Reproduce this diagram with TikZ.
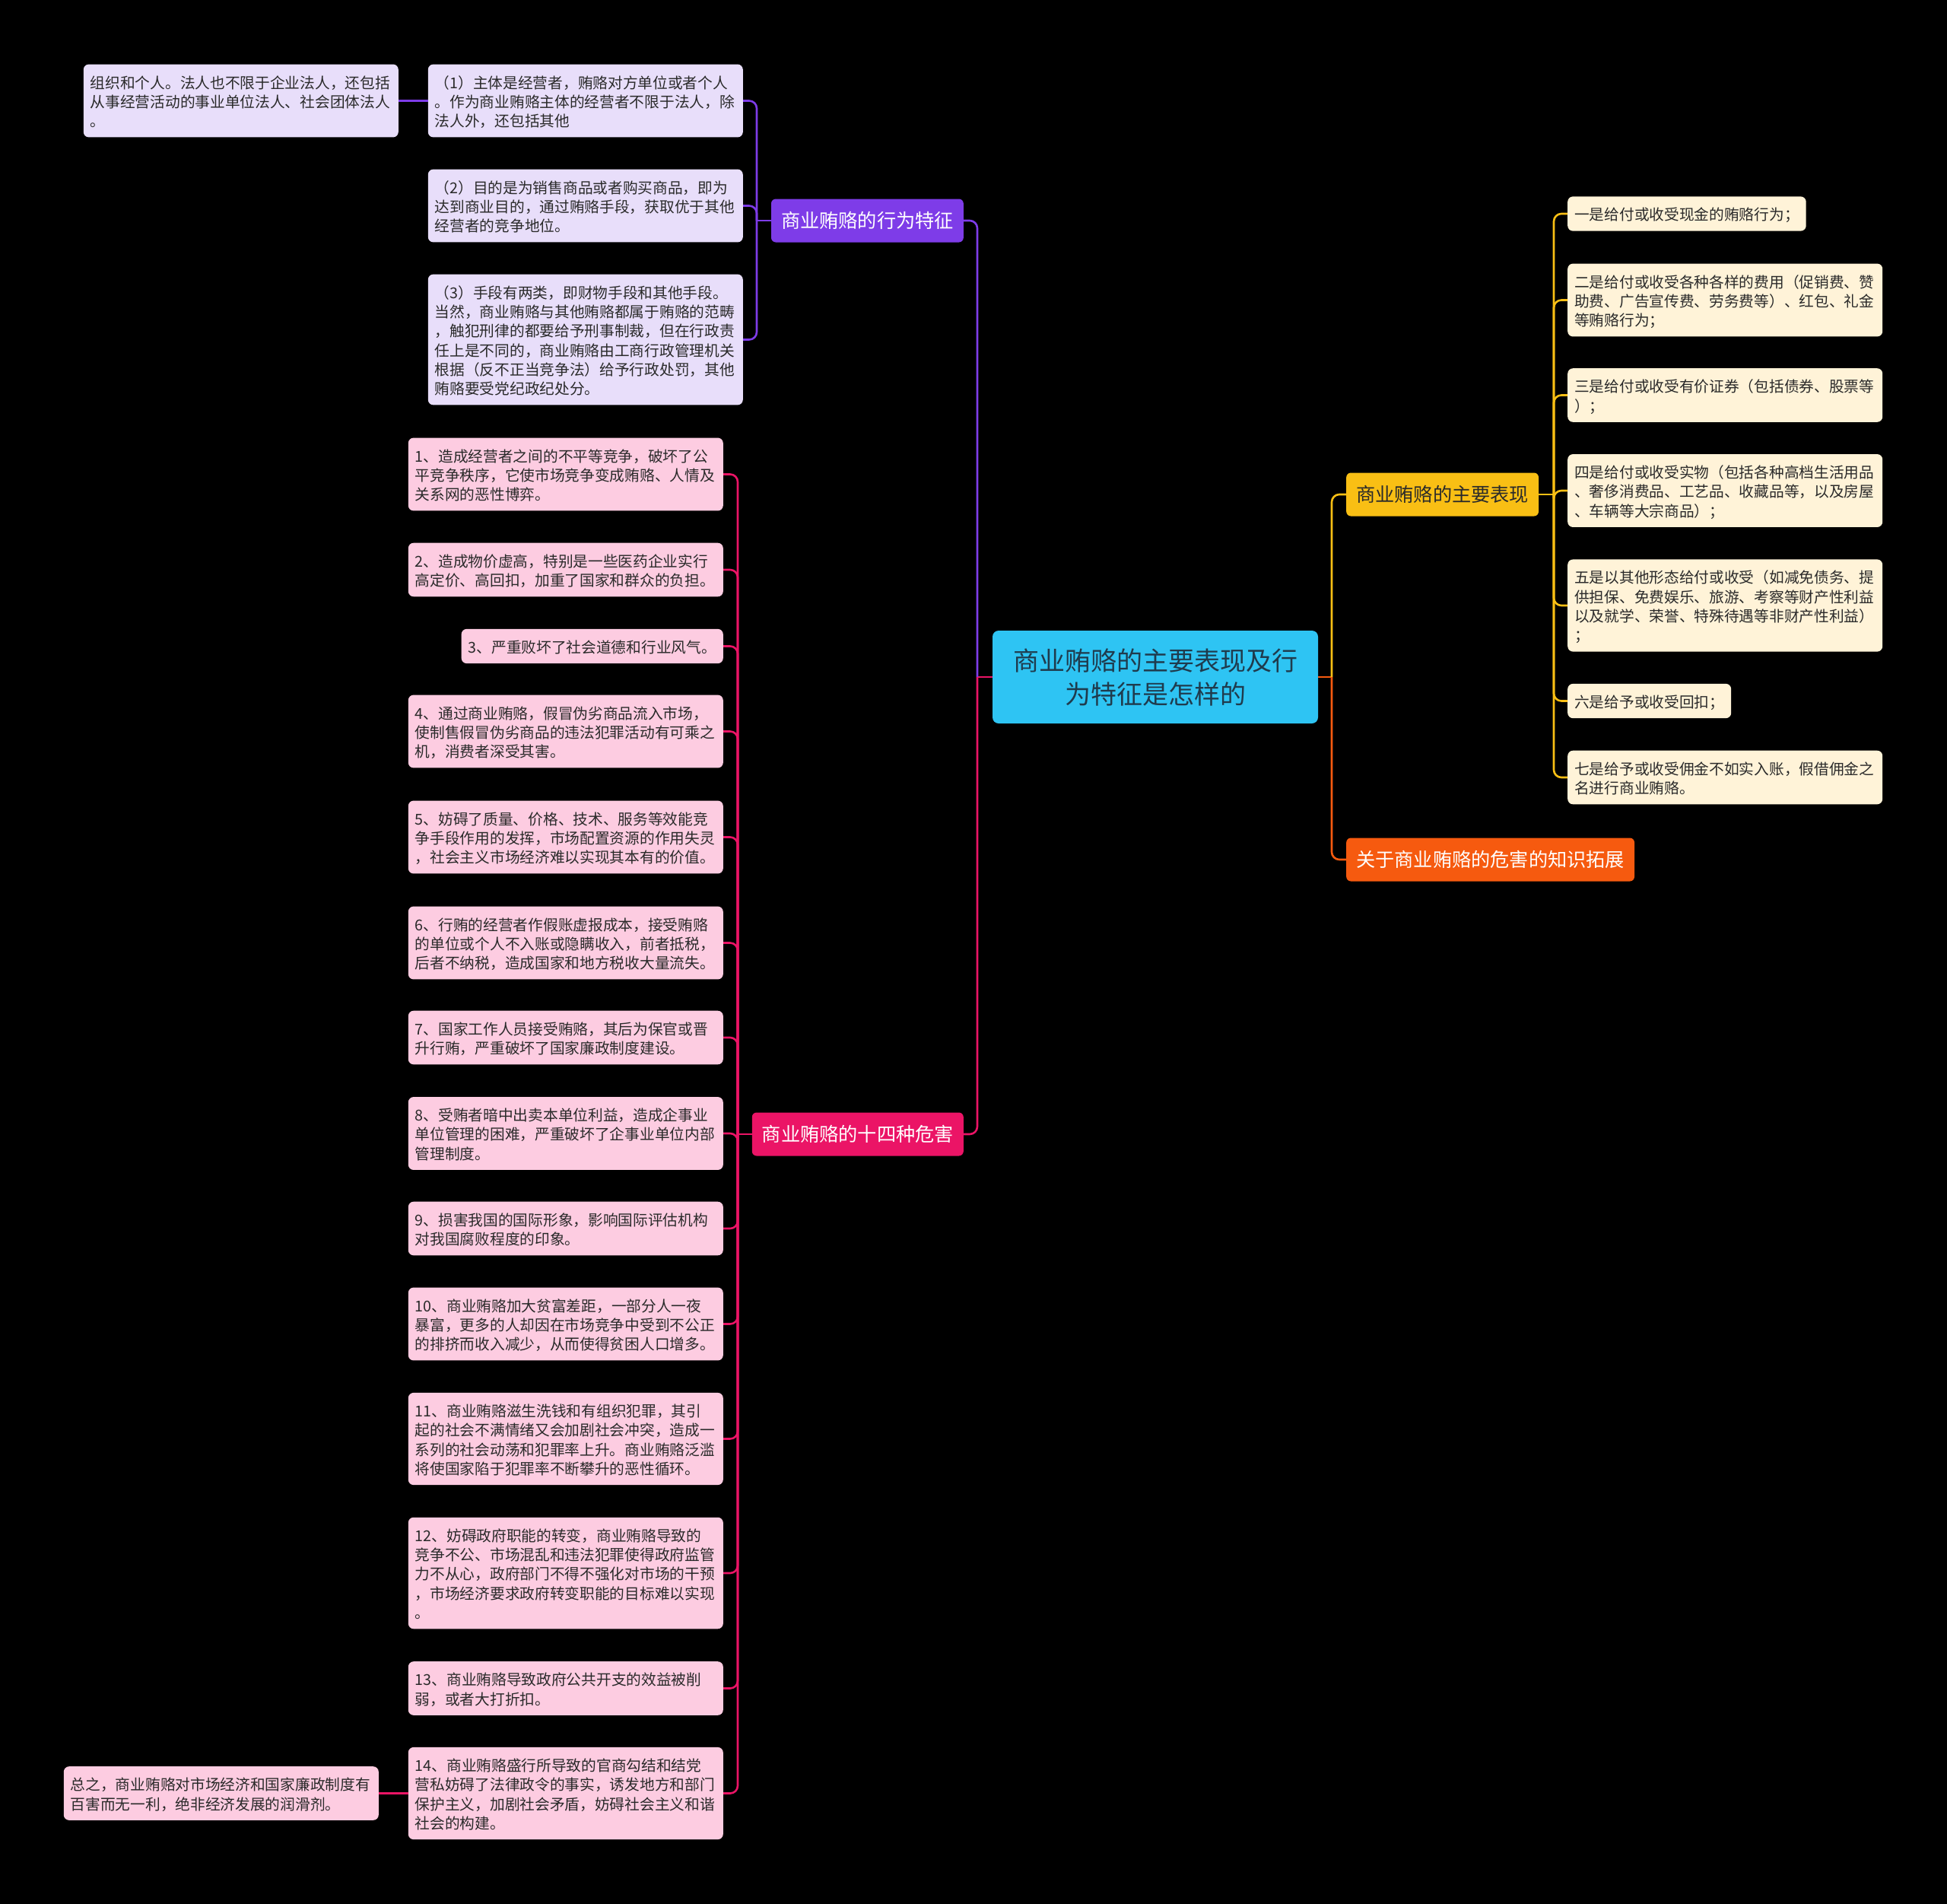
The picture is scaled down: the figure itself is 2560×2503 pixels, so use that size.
\documentclass[tikz,border=0pt]{standalone}
\usepackage{fontspec}
\newfontfamily\cjk{Noto Sans CJK SC}

\definecolor{cpur}{HTML}{7E3CE8}
\definecolor{cpnk}{HTML}{EB1466}
\definecolor{cyel}{HTML}{F9BF14}
\definecolor{corg}{HTML}{F65A0F}
\definecolor{ccyan}{HTML}{2EC4F3}
\definecolor{lpur}{HTML}{E8DEFA}
\definecolor{lpnk}{HTML}{FDCCE1}
\definecolor{lyel}{HTML}{FFF3D8}
\definecolor{tdark}{HTML}{2A2A2A}
\definecolor{troot}{HTML}{1F3B4D}

\begin{document}
\begin{tikzpicture}[x=1pt, y=-1pt,
    box/.style={rectangle, rounded corners=7pt, inner xsep=9pt, inner ysep=10pt, align=left, text=tdark,
        font=\cjk\fontsize{19.7}{25.3}\selectfont,
        execute at begin node={\rule{0pt}{21.5pt}}, execute at end node={\rule[-3.8pt]{0pt}{3.8pt}}},
    leaf/.style={box, text width=396pt},
    mainbox/.style={rectangle, rounded corners=6pt, inner xsep=13pt, inner ysep=0pt, minimum height=57pt,
        text=white, font=\cjk\fontsize{25.2}{30}\selectfont},
    rootbox/.style={rectangle, rounded corners=8pt, inner sep=0pt, minimum width=428pt, minimum height=122pt,
        align=center, fill=ccyan, text=troot, font=\cjk\fontsize{34}{44}\selectfont},
    link/.style={line width=2.6pt, rounded corners=10pt}]

    % Background
    \fill[black] (0,0) rectangle (2560,2503);
    \useasboundingbox (0,0) rectangle (2560,2503);

    % Draw the centre
    \node[rootbox] (root) at (1519,890) {商业贿赂的主要表现及行\\为特征是怎样的};

    % Draw the four branches
    \node[mainbox, fill=cpur, anchor=east] (pur) at (1267,290) {商业贿赂的行为特征};
    \node[mainbox, fill=cpnk, anchor=east] (pnk) at (1267,1491) {商业贿赂的十四种危害};
    \node[mainbox, fill=cyel, text=tdark, anchor=west] (yel) at (1770,650) {商业贿赂的主要表现};
    \node[mainbox, fill=corg, anchor=west] (org) at (1770,1130) {关于商业贿赂的危害的知识拓展};

    % Purple leaves
    \node[leaf, fill=lpur, anchor=east] (l0) at (524,132.5) {组织和个人。法人也不限于企业法人，还包括\\从事经营活动的事业单位法人、社会团体法人\\。};
    \node[leaf, fill=lpur, anchor=east] (p1) at (977,132.5) {（1）主体是经营者，贿赂对方单位或者个人\\。作为商业贿赂主体的经营者不限于法人，除\\法人外，还包括其他};
    \node[leaf, fill=lpur, anchor=east] (p2) at (977,270.5) {（2）目的是为销售商品或者购买商品，即为\\达到商业目的，通过贿赂手段，获取优于其他\\经营者的竞争地位。};
    \node[leaf, fill=lpur, anchor=east] (p3) at (977,446.5) {（3）手段有两类，即财物手段和其他手段。\\当然，商业贿赂与其他贿赂都属于贿赂的范畴\\，触犯刑律的都要给予刑事制裁，但在行政责\\任上是不同的，商业贿赂由工商行政管理机关\\根据（反不正当竞争法）给予行政处罚，其他\\贿赂要受党纪政纪处分。};

    % Pink leaves
    \node[leaf, fill=lpnk, anchor=east] (h1) at (951,623.5) {1、造成经营者之间的不平等竞争，破坏了公\\平竞争秩序，它使市场竞争变成贿赂、人情及\\关系网的恶性博弈。};
    \node[leaf, fill=lpnk, anchor=east] (h2) at (951,749) {2、造成物价虚高，特别是一些医药企业实行\\高定价、高回扣，加重了国家和群众的负担。};
    \node[box, fill=lpnk, anchor=east] (h3) at (951,849.5) {3、严重败坏了社会道德和行业风气。};
    \node[leaf, fill=lpnk, anchor=east] (h4) at (951,961.5) {4、通过商业贿赂，假冒伪劣商品流入市场，\\使制售假冒伪劣商品的违法犯罪活动有可乘之\\机，消费者深受其害。};
    \node[leaf, fill=lpnk, anchor=east] (h5) at (951,1100.5) {5、妨碍了质量、价格、技术、服务等效能竞\\争手段作用的发挥，市场配置资源的作用失灵\\，社会主义市场经济难以实现其本有的价值。};
    \node[leaf, fill=lpnk, anchor=east] (h6) at (951,1239.5) {6、行贿的经营者作假账虚报成本，接受贿赂\\的单位或个人不入账或隐瞒收入，前者抵税，\\后者不纳税，造成国家和地方税收大量流失。};
    \node[leaf, fill=lpnk, anchor=east] (h7) at (951,1364) {7、国家工作人员接受贿赂，其后为保官或晋\\升行贿，严重破坏了国家廉政制度建设。};
    \node[leaf, fill=lpnk, anchor=east] (h8) at (951,1490) {8、受贿者暗中出卖本单位利益，造成企事业\\单位管理的困难，严重破坏了企事业单位内部\\管理制度。};
    \node[leaf, fill=lpnk, anchor=east] (h9) at (951,1615) {9、损害我国的国际形象，影响国际评估机构\\对我国腐败程度的印象。};
    \node[leaf, fill=lpnk, anchor=east] (h10) at (951,1740.5) {10、商业贿赂加大贫富差距，一部分人一夜\\暴富，更多的人却因在市场竞争中受到不公正\\的排挤而收入减少，从而使得贫困人口增多。};
    \node[leaf, fill=lpnk, anchor=east] (h11) at (951,1891.5) {11、商业贿赂滋生洗钱和有组织犯罪，其引\\起的社会不满情绪又会加剧社会冲突，造成一\\系列的社会动荡和犯罪率上升。商业贿赂泛滥\\将使国家陷于犯罪率不断攀升的恶性循环。};
    \node[leaf, fill=lpnk, anchor=east] (h12) at (951,2068) {12、妨碍政府职能的转变，商业贿赂导致的\\竞争不公、市场混乱和违法犯罪使得政府监管\\力不从心，政府部门不得不强化对市场的干预\\，市场经济要求政府转变职能的目标难以实现\\。};
    \node[leaf, fill=lpnk, anchor=east] (h13) at (951,2219.5) {13、商业贿赂导致政府公共开支的效益被削\\弱，或者大打折扣。};
    \node[leaf, fill=lpnk, anchor=east] (h14) at (951,2357.5) {14、商业贿赂盛行所导致的官商勾结和结党\\营私妨碍了法律政令的事实，诱发地方和部门\\保护主义，加剧社会矛盾，妨碍社会主义和谐\\社会的构建。};
    \node[leaf, fill=lpnk, anchor=east] (s) at (498,2357.5) {总之，商业贿赂对市场经济和国家廉政制度有\\百害而无一利，绝非经济发展的润滑剂。};

    % Yellow leaves
    \node[box, fill=lyel, anchor=west] (y1) at (2061,281) {一是给付或收受现金的贿赂行为；};
    \node[leaf, fill=lyel, anchor=west] (y2) at (2061,394.5) {二是给付或收受各种各样的费用（促销费、赞\\助费、广告宣传费、劳务费等）、红包、礼金\\等贿赂行为；};
    \node[leaf, fill=lyel, anchor=west] (y3) at (2061,519.5) {三是给付或收受有价证券（包括债券、股票等\\）；};
    \node[leaf, fill=lyel, anchor=west] (y4) at (2061,645) {四是给付或收受实物（包括各种高档生活用品\\、奢侈消费品、工艺品、收藏品等，以及房屋\\、车辆等大宗商品）；};
    \node[leaf, fill=lyel, anchor=west] (y5) at (2061,796) {五是以其他形态给付或收受（如减免债务、提\\供担保、免费娱乐、旅游、考察等财产性利益\\以及就学、荣誉、特殊待遇等非财产性利益）\\；};
    \node[box, fill=lyel, anchor=west] (y6) at (2061,921.5) {六是给予或收受回扣；};
    \node[leaf, fill=lyel, anchor=west] (y7) at (2061,1022) {七是给予或收受佣金不如实入账，假借佣金之\\名进行商业贿赂。};

    % Connect the centre to the branches
    \coordinate (cl) at (1285,890);
    \coordinate (cr) at (1751,890);
    \draw[link, cpnk] (root.west) -- (cl);
    \draw[link, cpur] (pur.east) -| (cl);
    \draw[link, cpnk] (pnk.east) -| (cl);
    \draw[link, corg] (root.east) -- (cr);
    \draw[link, cyel] (yel.west) -| (cr);
    \draw[link, corg] (org.west) -| (cr);

    % Connect the purple leaves
    \coordinate (jp) at (995,290);
    \draw[link, cpur] (pur.west) -- (jp);
    \draw[link, cpur] (p1.east) -| (jp);
    \draw[link, cpur] (p2.east) -| (jp);
    \draw[link, cpur] (p3.east) -| (jp);
    \draw[link, cpur] (l0.east) -- (p1.west);

    % Connect the pink leaves
    \coordinate (jh) at (970,1491);
    \draw[link, cpnk] (pnk.west) -- (jh);
    \draw[link, cpnk] (h1.east) -| (jh);
    \draw[link, cpnk] (h2.east) -| (jh);
    \draw[link, cpnk] (h3.east) -| (jh);
    \draw[link, cpnk] (h4.east) -| (jh);
    \draw[link, cpnk] (h5.east) -| (jh);
    \draw[link, cpnk] (h6.east) -| (jh);
    \draw[link, cpnk] (h7.east) -| (jh);
    \draw[link, cpnk] (h8.east) -| (jh);
    \draw[link, cpnk] (h9.east) -| (jh);
    \draw[link, cpnk] (h10.east) -| (jh);
    \draw[link, cpnk] (h11.east) -| (jh);
    \draw[link, cpnk] (h12.east) -| (jh);
    \draw[link, cpnk] (h13.east) -| (jh);
    \draw[link, cpnk] (h14.east) -| (jh);
    \draw[link, cpnk] (s.east) -- (h14.west);

    % Connect the yellow leaves
    \coordinate (jy) at (2043,650);
    \draw[link, cyel] (yel.east) -- (jy);
    \draw[link, cyel] (y1.west) -| (jy);
    \draw[link, cyel] (y2.west) -| (jy);
    \draw[link, cyel] (y3.west) -| (jy);
    \draw[link, cyel] (y4.west) -| (jy);
    \draw[link, cyel] (y5.west) -| (jy);
    \draw[link, cyel] (y6.west) -| (jy);
    \draw[link, cyel] (y7.west) -| (jy);

\end{tikzpicture}
\end{document}
